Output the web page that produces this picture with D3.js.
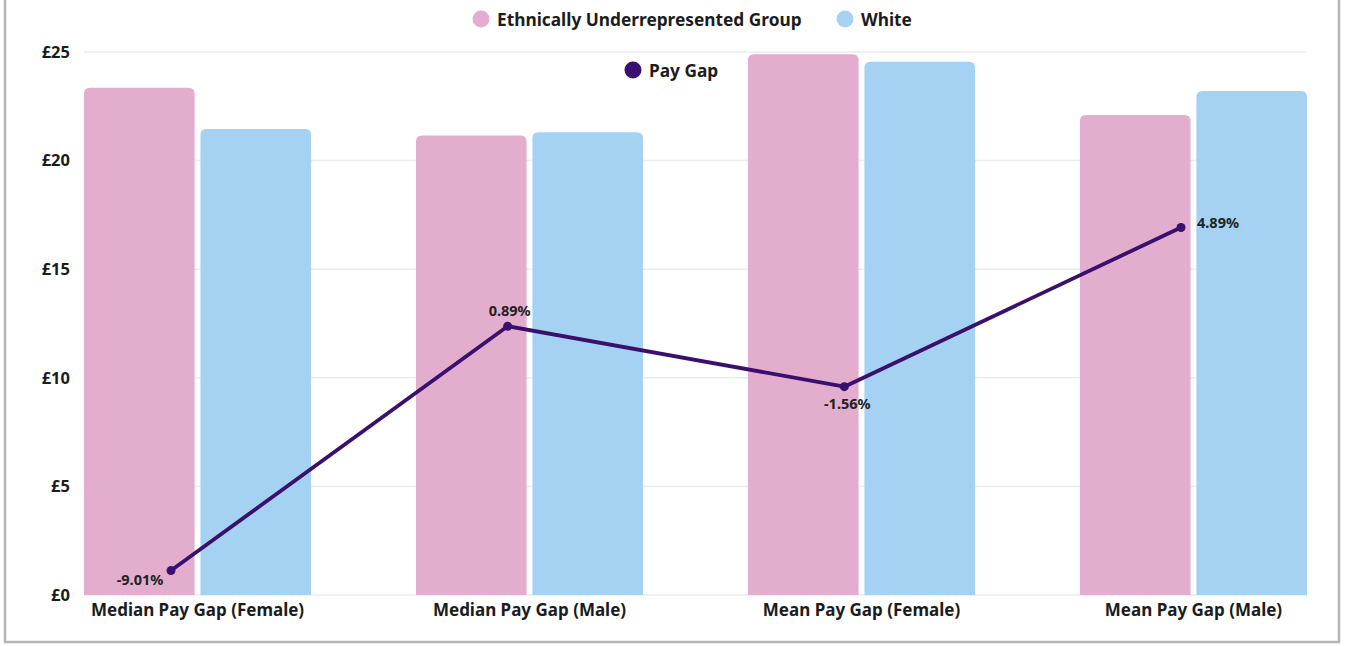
<!DOCTYPE html>
<html>
<head>
<meta charset="utf-8">
<script src="https://cdn.jsdelivr.net/npm/d3@7"></script>
<style>
  body { margin: 0; background: #fff; }
  svg { display: block; font-family: "Noto Sans", sans-serif; }
</style>
</head>
<body>
<svg id="chart"></svg>
<script>
const categories = ["Median Pay Gap (Female)", "Median Pay Gap (Male)", "Mean Pay Gap (Female)", "Mean Pay Gap (Male)"];
const seriesNames = ["Ethnically Underrepresented Group", "White"];
const underrepresented = [23.35, 21.15, 24.9, 22.1];
const white = [21.45, 21.3, 24.55, 23.2];
const payGap = [-9.01, 0.89, -1.56, 4.89];
const payGapLabels = ["-9.01%", "0.89%", "-1.56%", "4.89%"];
const yTicks = [0, 5, 10, 15, 20, 25];

const width = 1345, height = 646;
const margin = { top: 52, right: 38, bottom: 51, left: 84 };
const colors = { pink: "#e3aecd", blue: "#a5d2f2", line: "#3b0f6e", text: "#1c1c1c" };

const svg = d3.select("#chart").attr("width", width).attr("height", height);

// frame
svg.append("rect")
  .attr("x", 5).attr("y", -10)
  .attr("width", 1334).attr("height", 652)
  .attr("fill", "none")
  .attr("stroke", "#b5b5b5")
  .attr("stroke-width", 2.5);

const x0 = d3.scaleBand()
  .domain(categories)
  .range([margin.left, width - margin.right])
  .paddingInner(0.316)
  .paddingOuter(0);

const x1 = d3.scaleBand()
  .domain(seriesNames)
  .range([0, x0.bandwidth()])
  .paddingInner(0.05);

const y = d3.scaleLinear()
  .domain([0, 25])
  .range([height - margin.bottom, margin.top]);

// hidden secondary axis for the pay gap line
const y2 = d3.scaleLinear()
  .domain([-10, 12])
  .range([height - margin.bottom, margin.top]);

const xLine = d3.scalePoint()
  .domain(categories)
  .range([171, 1181]);

// gridlines
svg.append("g")
  .selectAll("line")
  .data(yTicks)
  .join("line")
  .attr("x1", margin.left)
  .attr("x2", width - margin.right)
  .attr("y1", d => y(d))
  .attr("y2", d => y(d))
  .attr("stroke", "#ececec")
  .attr("stroke-width", 1.5);

// y axis labels
const yAxis = svg.append("g")
  .attr("transform", `translate(${margin.left - 14},0)`)
  .call(d3.axisLeft(y).tickValues(yTicks).tickFormat(d => "£" + d).tickSize(0).tickPadding(0));
yAxis.select(".domain").remove();
yAxis.selectAll("text")
  .attr("font-family", "Noto Sans, sans-serif")
  .attr("font-size", 16.5)
  .attr("font-weight", 700)
  .attr("fill", colors.text);

// bars with rounded tops
function topRounded(x, yTop, w, h, r) {
  r = Math.min(r, h, w / 2);
  return `M${x},${yTop + h}V${yTop + r}Q${x},${yTop} ${x + r},${yTop}H${x + w - r}Q${x + w},${yTop} ${x + w},${yTop + r}V${yTop + h}Z`;
}

const barData = categories.map((c, i) => ({
  cat: c,
  values: [
    { key: seriesNames[0], v: underrepresented[i], color: colors.pink },
    { key: seriesNames[1], v: white[i], color: colors.blue }
  ]
}));

svg.append("g")
  .selectAll("g")
  .data(barData)
  .join("g")
  .attr("transform", d => `translate(${x0(d.cat)},0)`)
  .selectAll("path")
  .data(d => d.values)
  .join("path")
  .attr("d", d => topRounded(x1(d.key), y(d.v), x1.bandwidth(), y(0) - y(d.v), 6))
  .attr("fill", d => d.color);

// x axis labels
const xAxis = svg.append("g")
  .attr("transform", `translate(0,${height - margin.bottom + 7})`)
  .call(d3.axisBottom(x0).tickSize(0).tickPadding(0));
xAxis.select(".domain").remove();
xAxis.selectAll("text")
  .attr("dy", "0.85em")
  .attr("font-family", "Noto Sans, sans-serif")
  .attr("font-size", 17)
  .attr("font-weight", 700)
  .attr("fill", colors.text);

// pay gap line
const lineData = categories.map((c, i) => ({ cat: c, v: payGap[i], label: payGapLabels[i] }));
svg.append("path")
  .datum(lineData)
  .attr("fill", "none")
  .attr("stroke", colors.line)
  .attr("stroke-width", 3.8)
  .attr("stroke-linejoin", "round")
  .attr("d", d3.line().x(d => xLine(d.cat)).y(d => y2(d.v)));

svg.append("g")
  .selectAll("circle")
  .data(lineData)
  .join("circle")
  .attr("cx", d => xLine(d.cat))
  .attr("cy", d => y2(d.v))
  .attr("r", 4.5)
  .attr("fill", colors.line);

const labelPos = [
  { dx: -31, dy: 14, anchor: "middle" },
  { dx: 2, dy: -10, anchor: "middle" },
  { dx: 3, dy: 22, anchor: "middle" },
  { dx: 16, dy: 1, anchor: "start" }
];
svg.append("g")
  .selectAll("text")
  .data(lineData)
  .join("text")
  .attr("x", (d, i) => xLine(d.cat) + labelPos[i].dx)
  .attr("y", (d, i) => y2(d.v) + labelPos[i].dy)
  .attr("text-anchor", (d, i) => labelPos[i].anchor)
  .attr("font-size", 14.5)
  .attr("font-weight", 700)
  .attr("fill", "#222")
  .text(d => d.label);

// legend
const legendItems = [
  { label: seriesNames[0], color: colors.pink, x: 481, y: 19 },
  { label: seriesNames[1], color: colors.blue, x: 845, y: 19 },
  { label: "Pay Gap", color: colors.line, x: 633, y: 70 }
];
const legend = svg.append("g")
  .selectAll("g")
  .data(legendItems)
  .join("g")
  .attr("transform", d => `translate(${d.x},${d.y})`);
legend.append("circle").attr("r", 8.5).attr("fill", d => d.color);
legend.append("text")
  .attr("x", 16)
  .attr("dy", "0.38em")
  .attr("font-size", 17.3)
  .attr("font-weight", 700)
  .attr("fill", colors.text)
  .text(d => d.label);
</script>
</body>
</html>
